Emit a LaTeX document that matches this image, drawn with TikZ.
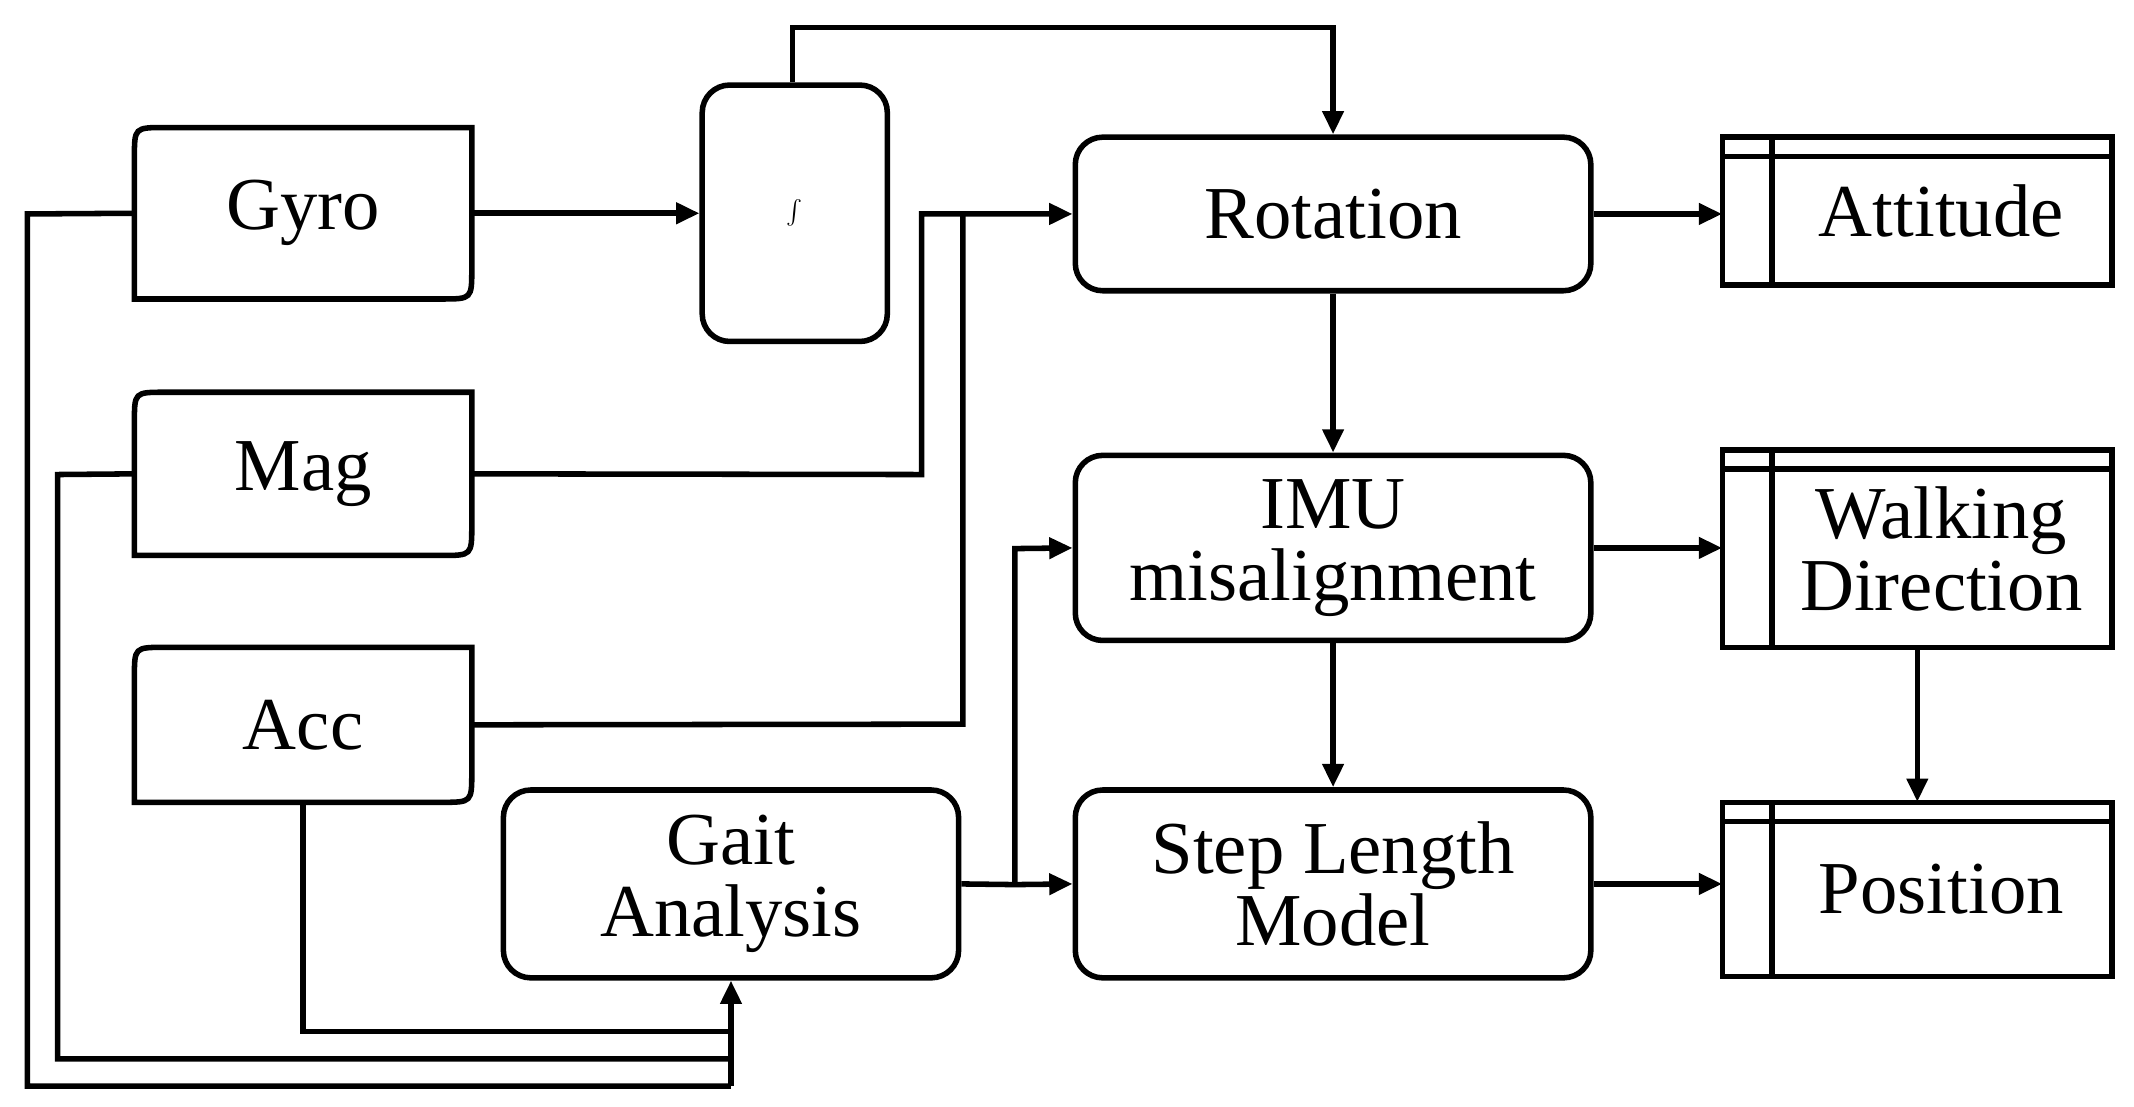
\documentclass[tikz,border=0pt]{standalone}
\usepackage{fontspec}
\setmainfont{Liberation Serif}
\usetikzlibrary{arrows.meta,calc}
\begin{document}
\begin{tikzpicture}[x=0.02cm,y=-0.02cm,
  every node/.style={font=\fontsize{31}{36}\selectfont, align=center},
  line/.style={line width=2.3pt},
  arr/.style={line, -{Triangle[length=0.34cm,width=0.3cm]}},
  box/.style={draw, line width=2.3pt, rounded corners=0.4cm, minimum width=7.52cm, inner sep=0pt},
  plain/.style={inner sep=0pt, minimum width=4.92cm}]
\useasboundingbox (0,0) rectangle (1556,806.5);
% sensor boxes (drawn as paths)
\newcommand{\sensorbox}[4]{% x1,y1,x2,y2
  \draw[line] (#1,#4) -- (#1,#2+22) .. controls (#1,#2) .. (#1+22,#2) -- (#3,#2) -- (#3,#4-22) .. controls (#3,#4) .. (#3-22,#4) -- cycle;}
\sensorbox{98}{93}{344}{218}
\sensorbox{98}{286}{344}{405}
\sensorbox{98}{472}{344}{585}
\node[plain, minimum height=2.5cm] (gyro) at (221,155.5) {Gyro};
\node[plain, minimum height=2.38cm] (mag) at (221,345.5) {Mag};
\node[plain, minimum height=2.26cm] (acc) at (221,528.5) {Acc};
% integral
\node[draw, line width=2.3pt, rounded corners=0.4cm, minimum width=2.7cm, minimum height=3.74cm, inner sep=0pt] (int) at (579.5,155.5) {\fontsize{46}{50}\selectfont$\int$};
% process boxes
\node[box, minimum height=2.24cm] (rot) at (972,156) {Rotation};
\node[box, minimum height=2.7cm] (imu) at (972,399.5) {IMU\\[-6pt]misalignment};
\node[box, minimum height=2.74cm] (step) at (972,644.5) {Step Length\\[-6pt]Model};
\node[draw, line width=2.3pt, rounded corners=0.4cm, minimum width=6.64cm, minimum height=2.74cm, inner sep=0pt] (gait) at (533,644.5) {Gait\\[-6pt]Analysis};
% outputs
\newcommand{\outbox}[4]{%
  \draw[line] (#1,#2) rectangle (#3,#4);
  \draw[line] (#1,#2+14) -- (#3,#2+14);
  \draw[line] (#1+36,#2) -- (#1+36,#4);}
\outbox{1256}{100}{1540}{208}
\outbox{1256}{328}{1540}{472}
\outbox{1256}{585}{1540}{712}
\node[inner sep=0pt, minimum width=5.68cm, minimum height=2.16cm] (att) at (1398,154) {\hspace{0.7cm}Attitude};
\node[inner sep=0pt, minimum width=5.68cm, minimum height=2.88cm] (walk) at (1398,400) {\hspace{0.7cm}Walking\\[-6pt]\hspace{0.7cm}Direction};
\node[inner sep=0pt, minimum width=5.68cm, minimum height=2.54cm] (pos) at (1398,648.5) {\hspace{0.7cm}Position};
% connectors
\coordinate (top1) at (578,20);
\coordinate (top2) at (972,20);
\draw[arr] (gyro.east) -- (int.west);
\draw[arr] (int.north -| top1) -- (top1) -- (top2) -- (rot.north);
\coordinate (m1) at (672,346);
\coordinate (m2) at (672,156);
\draw[arr] (mag.east) -- (m1) -- (m2) -- (rot.west);
\coordinate (a1) at (702,528);
\coordinate (a2) at (702,156);
\draw[line] (acc.east) -- (a1) -- (a2);
\coordinate (g1) at (740,645);
\coordinate (g2) at (740,400);
\draw[arr] (gait.east) -- (g1) -- (step.west);
\draw[arr] (g1) -- (g2) -- (imu.west);
\draw[arr] (rot.south) -- (imu.north);
\draw[arr] (imu.south) -- (step.north);
\draw[arr] (rot.east) -- (rot.east -| att.west);
\draw[arr] (imu.east) -- (imu.east -| walk.west);
\draw[arr] (step.east) -- (step.east -| pos.west);
\draw[arr] (walk.south) -- (pos.north);
\coordinate (l1) at (20,156);
\coordinate (l2) at (20,792);
\coordinate (l3) at (533,792);
\coordinate (k1) at (42,346);
\coordinate (k2) at (42,772);
\coordinate (k3) at (533,772);
\coordinate (c1) at (221,752);
\coordinate (c2) at (533,752);
\draw[line] (gyro.west) -- (l1) -- (l2) -- (l3);
\draw[line] (mag.west) -- (k1) -- (k2) -- (k3);
\draw[line] (acc.south) -- (c1) -- (c2);
\draw[arr] (l3) -- (gait.south);
\end{tikzpicture}
\end{document}
